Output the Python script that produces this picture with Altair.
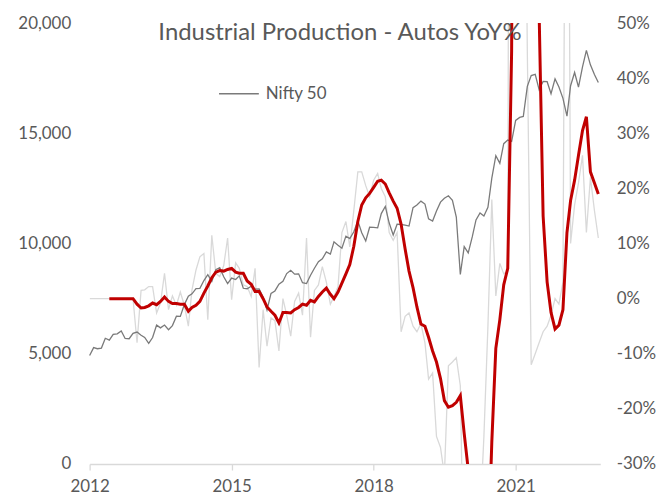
import altair as alt
import pandas as pd

# ---------------- data ----------------
start_month = "2012-01-01"
series_name = "Nifty 50"
title_text = "Industrial Production - Autos YoY%"
tick_years = ["2012", "2015", "2018", "2021"]
left_ticks = [0, 5000, 10000, 15000, 20000]
right_ticks = [-30, -20, -10, 0, 10, 20, 30, 40, 50]

nifty = [
    4924, 5279, 5229, 5259, 5703, 5620, 5880, 5905,
    6035, 5693, 5683, 5930, 5986, 5843, 5742, 5472, 5735, 6299, 6176, 6304,
    6090, 6277, 6704, 6696, 7230, 7611, 7721, 7954, 7965, 8322, 8588, 8283,
    8809, 8902, 8491, 8182, 8434, 8369, 8533, 7971, 7949, 8066, 7935, 7946,
    7564, 6987, 7738, 7850, 8160, 8288, 8639, 8786, 8611, 8626, 8224, 8186,
    8561, 8880, 9174, 9304, 9621, 9521, 10077, 9918, 9789, 10335, 10227, 10531,
    11028, 10493, 10114, 10739, 10736, 10714, 11357, 11681, 10930, 10387, 10877, 10863,
    10831, 10793, 11624, 11748, 11923, 11789, 11118, 11023, 11474, 11877, 12056, 12168,
    11962, 11202, 8598, 9860, 9580, 10302, 11073, 11388, 11248, 11642, 12969, 13982,
    13635, 14529, 14691, 14631, 15583, 15722, 15763, 17132, 17618, 17672, 16983, 17354,
    17340, 16794, 17465, 17103, 16585, 15780, 17158, 17759, 17094, 18012, 18758, 18105,
    17662, 17304,
]

autos_yoy = [0] * 12 + [
    -8, 1.5, 1.6, 2.2, 2.2, -2.6, -0.8, 4.6, -2, 0.5, -1.2, 1.2,
    -1.2, -5, 1.6, 5.2, 7.6, 8.2, -3.8, 11.5, 4.6, 4, 6, 11,
    -0.2, 6.5, 5.5, 2.5, 2.2, 0.4, 5.5, -12.5, -2, -8.6, -3.5, -4,
    -9.5, 0, -3, -6.8, -0.5, 1, -3, 11, -7, 1.5, 2.5, 5.8,
    3, -1, 0.4, 2.2, 12, 14, 9.4, 16, 23, 23, 20.5, 18.5,
    21.5, 22.7, 20, 18.5, 12, 10.6, 12, -6, -3.2, -2.6, -5, -6,
    -4.5, -8, -14.6, -13.5, -25, -27, -32, -12.2, -11.5, -10.7, -15.8, -55,
    -90, -85, -60, -40, -25, -5, 18, 0.5, 6.4, 4.5, 5, 300,
    250, 150, 120, 45, -12, -10, -8, -6, -5, -3, 0, -1,
    3, 150, 10, 17, 21, 26, 12, 22, 16, 11,
]

autos_yoy_6m = [None] * 5 + [0] * 7 + [
    -1.0, -1.7, -1.6, -1.3, -0.8, -1.1, -0.5, 0.3, -0.5, -0.9, -0.9, -1.0,
    -1.0, -2.3, -1.6, -1.2, -0.5, 1.0, 2.3, 3.8, 4.8, 5.1, 5.0, 5.3,
    5.5, 4.8, 4.6, 4.6, 3.2, 2.6, 1.3, 1.3, 0.0, -1.5, -2.3, -3.0,
    -4.4, -2.5, -2.5, -2.6, -2.0, -1.6, -1.0, -1.2, -0.3, -0.6, 0.4, 1.2,
    1.9, 0.8, 0.0, 1.2, 2.8, 4.5, 6.2, 9.5, 14.0, 17.0, 18.3, 19.1,
    20.2, 21.3, 21.5, 20.8, 19.2, 17.7, 16.4, 13.5, 9.0, 5.0, 2.0, -1.5,
    -4.6, -5.0, -7.0, -9.5, -11.5, -14.5, -18.5, -19.7, -19.4, -18.8, -17.6, -24.5,
    -31, -45, -60, -65, -62, -48, -26, -9, -3.8, 2.5, 5.5, 45,
    200, 250, 260, 230, 180, 120, 52, 15, 3, -2.5, -5.5, -4.8,
    -2, 12, 17.8, 21.5, 26, 30.5, 33, 23, 21, 19,
]

# ---------------- chart ----------------
dates = pd.date_range(start_month, periods=len(nifty), freq="MS")
df = pd.DataFrame({
    "date": dates,
    "nifty": nifty,
    "yoy": autos_yoy,
    "yoy6": autos_yoy_6m,
    "series": series_name,
})

FONT = "Lato"
TXT = "#595959"

x_enc = alt.X(
    "date:T",
    scale=alt.Scale(domain=[alt.DateTime(year=2012, month=1, date=1),
                            alt.DateTime(year=2022, month=10, date=16)]),
    axis=alt.Axis(
        values=[alt.DateTime(year=int(y), month=1, date=1) for y in tick_years],
        format="%Y", title=None, grid=False,
        domainColor="#d9d9d9", domainWidth=1.3,
        tickColor="#d9d9d9", tickWidth=1.3, tickSize=6,
        labelFont=FONT, labelFontSize=17, labelColor=TXT, labelPadding=9,
        labelFlush=False,
    ),
)

yoy_scale = alt.Scale(domain=[-30, 50], nice=False, zero=False)

base = alt.Chart(df)

raw_line = base.mark_line(color="#d9d9d9", strokeWidth=1.3, clip=True).encode(
    x=x_enc,
    y=alt.Y("yoy:Q", scale=yoy_scale,
            axis=alt.Axis(orient="right", values=right_ticks,
                          labelExpr="datum.value + '%'", title=None, grid=False,
                          domain=False, ticks=False, labelFont=FONT,
                          labelFontSize=17, labelColor=TXT, labelPadding=16)),
)

nifty_line = base.mark_line(strokeWidth=1.3).encode(
    x=alt.X("date:T"),
    y=alt.Y("nifty:Q", scale=alt.Scale(domain=[0, 20000], nice=False, zero=False),
            axis=alt.Axis(orient="left", values=left_ticks, format=",.0f",
                          title=None, grid=False, domain=False, ticks=False,
                          labelFont=FONT, labelFontSize=17, labelColor=TXT,
                          labelPadding=19)),
    color=alt.Color("series:N",
                    scale=alt.Scale(domain=[series_name], range=["#7a7a7a"]),
                    legend=alt.Legend(orient="none", legendX=129, legendY=50,
                                      title=None, symbolType="stroke",
                                      symbolSize=1600, symbolStrokeWidth=1.3,
                                      labelFont=FONT, labelFontSize=17,
                                      labelColor=TXT, labelOffset=6, padding=0)),
)

smooth_line = base.mark_line(color="#c00000", strokeWidth=3, clip=True).encode(
    x=alt.X("date:T"),
    y=alt.Y("yoy6:Q", scale=yoy_scale, axis=None),
)

chart = (
    alt.layer(raw_line, nifty_line, smooth_line)
    .resolve_scale(y="independent")
    .properties(
        width=513, height=443,
        title=alt.TitleParams(text=title_text, font=FONT, fontSize=24,
                              fontWeight="normal", color=TXT, anchor="middle",
                              frame="group", offset=-31, dx=-5),
        padding={"left": 82, "top": 14, "right": 57, "bottom": 30},
        autosize=alt.AutoSizeParams(type="none"),
        background="white",
    )
    .configure_view(stroke=None)
)

chart.save("out.html", embed_options={"renderer": "svg", "actions": False})
